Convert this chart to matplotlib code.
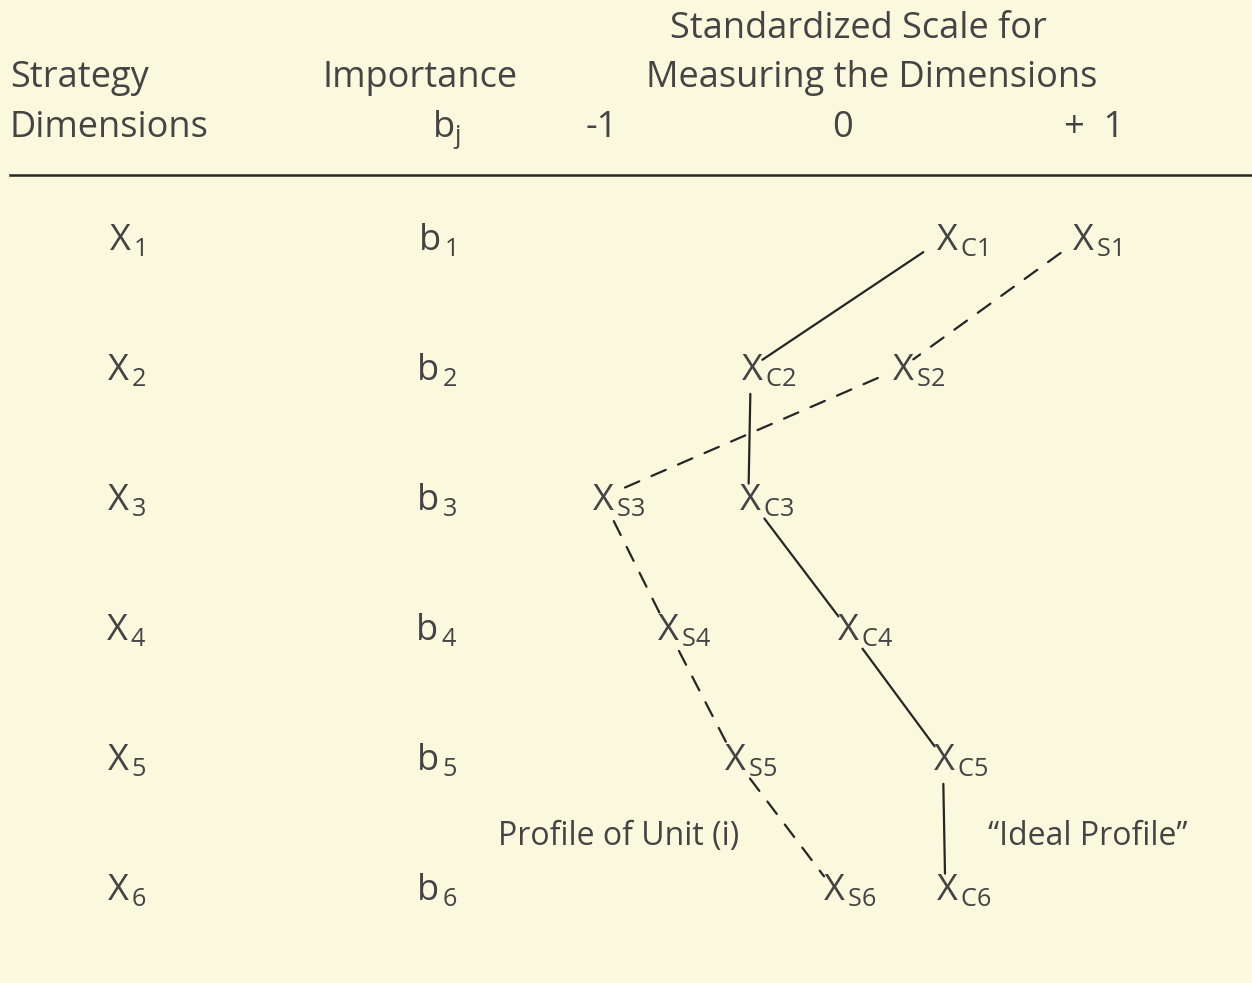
import matplotlib
matplotlib.use('Agg')
import matplotlib.pyplot as plt

plt.rcParams['font.family'] = ['Open Sans', 'DejaVu Sans']
plt.rcParams['mathtext.fontset'] = 'custom'
plt.rcParams['mathtext.rm'] = 'Open Sans'
plt.rcParams['mathtext.it'] = 'Open Sans'
plt.rcParams['mathtext.bf'] = 'Open Sans:bold'

# rows of the table: strategy dimensions and their importance
filas = [1, 2, 3, 4, 5, 6]
dimensiones = [r'$X_{\,1}$', r'$X_{\,2}$', r'$X_{\,3}$', r'$X_{\,4}$', r'$X_{\,5}$', r'$X_{\,6}$']
importancias = [r'$b_{\,1}$', r'$b_{\,2}$', r'$b_{\,3}$', r'$b_{\,4}$', r'$b_{\,5}$', r'$b_{\,6}$']

# standardized scale
escala_ticks = [-1, 0, 1]
escala_labels = ['-1', '0', '+  1']

# "ideal profile" (C) and profile of unit i (S), values on the -1..+1 scale
ideal_x = [0.43, -0.38, -0.39, 0.02, 0.42, 0.43]
ideal_labels = [r'$X_{\,C1}$', r'$X_{\,C2}$', r'$X_{\,C3}$', r'$X_{\,C4}$', r'$X_{\,C5}$', r'$X_{\,C6}$']
unidad_x = [1.0, 0.25, -1.0, -0.73, -0.45, -0.04]
unidad_labels = [r'$X_{\,S1}$', r'$X_{\,S2}$', r'$X_{\,S3}$', r'$X_{\,S4}$', r'$X_{\,S5}$', r'$X_{\,S6}$']

fondo = '#faf8dd'
tinta = '#444444'
linea = '#262626'
fs = 26

fig = plt.figure(figsize=(12.52, 9.83), dpi=100)
fig.patch.set_facecolor(fondo)
ax = fig.add_axes([0, 0, 1, 1])
ax.set_facecolor(fondo)
ax.set_xlim(-3.508, 1.708)
ax.set_ylim(6.735, -0.827)
ax.axis('off')

# header
ax.text(0.07, -0.535, 'Standardized Scale for', ha='center', va='baseline', fontsize=fs, color=tinta)
ax.text(0.125, -0.158, 'Measuring the Dimensions', ha='center', va='baseline', fontsize=fs, color=tinta)
ax.text(-3.467, -0.158, 'Strategy', ha='left', va='baseline', fontsize=fs, color=tinta)
ax.text(-3.467, 0.227, 'Dimensions', ha='left', va='baseline', fontsize=fs, color=tinta)
ax.text(-1.76, -0.158, 'Importance', ha='center', va='baseline', fontsize=fs, color=tinta)
ax.text(-1.65, 0.227, r'$b_j$', ha='center', va='baseline', fontsize=fs, color=tinta)
for t, lab in zip(escala_ticks, escala_labels):
    ax.text(t + 0.05 * (t > 0), 0.227, lab, ha='center', va='baseline', fontsize=fs, color=tinta)
ax.axhline(0.519, xmin=10 / 1252, xmax=1, color=linea, lw=1.8)

# row labels
for r, d, b in zip(filas, dimensiones, importancias):
    ax.annotate(d, (-2.98, r), xytext=(0, -9), textcoords='offset points',
                ha='center', va='baseline', fontsize=fs, color=tinta)
    ax.annotate(b, (-1.69, r), xytext=(0, -9), textcoords='offset points',
                ha='center', va='baseline', fontsize=fs, color=tinta)


def perfil(xs, etiquetas, estilo):
    # segments between consecutive points, cut short around the labels
    for i in range(len(xs) - 1):
        ax.annotate('', xy=(xs[i + 1], filas[i + 1]), xytext=(xs[i], filas[i]),
                    arrowprops=dict(arrowstyle='-', shrinkA=19, shrinkB=10,
                                    color=linea, lw=1.6, linestyle=estilo))
    for x, r, lab in zip(xs, filas, etiquetas):
        ax.annotate(lab, (x, r), xytext=(-7, -9), textcoords='offset points',
                    ha='left', va='baseline', fontsize=fs, color=tinta)


perfil(ideal_x, ideal_labels, '-')
perfil(unidad_x, unidad_labels, (0, (7, 6)))

ax.text(-0.93, 5.67, 'Profile of Unit (i)', ha='center', va='baseline', fontsize=23, color=tinta)
ax.text(1.025, 5.67, '\u201cIdeal Profile\u201d', ha='center', va='baseline', fontsize=23, color=tinta)

fig.savefig('out.png', dpi=100, facecolor=fondo)
